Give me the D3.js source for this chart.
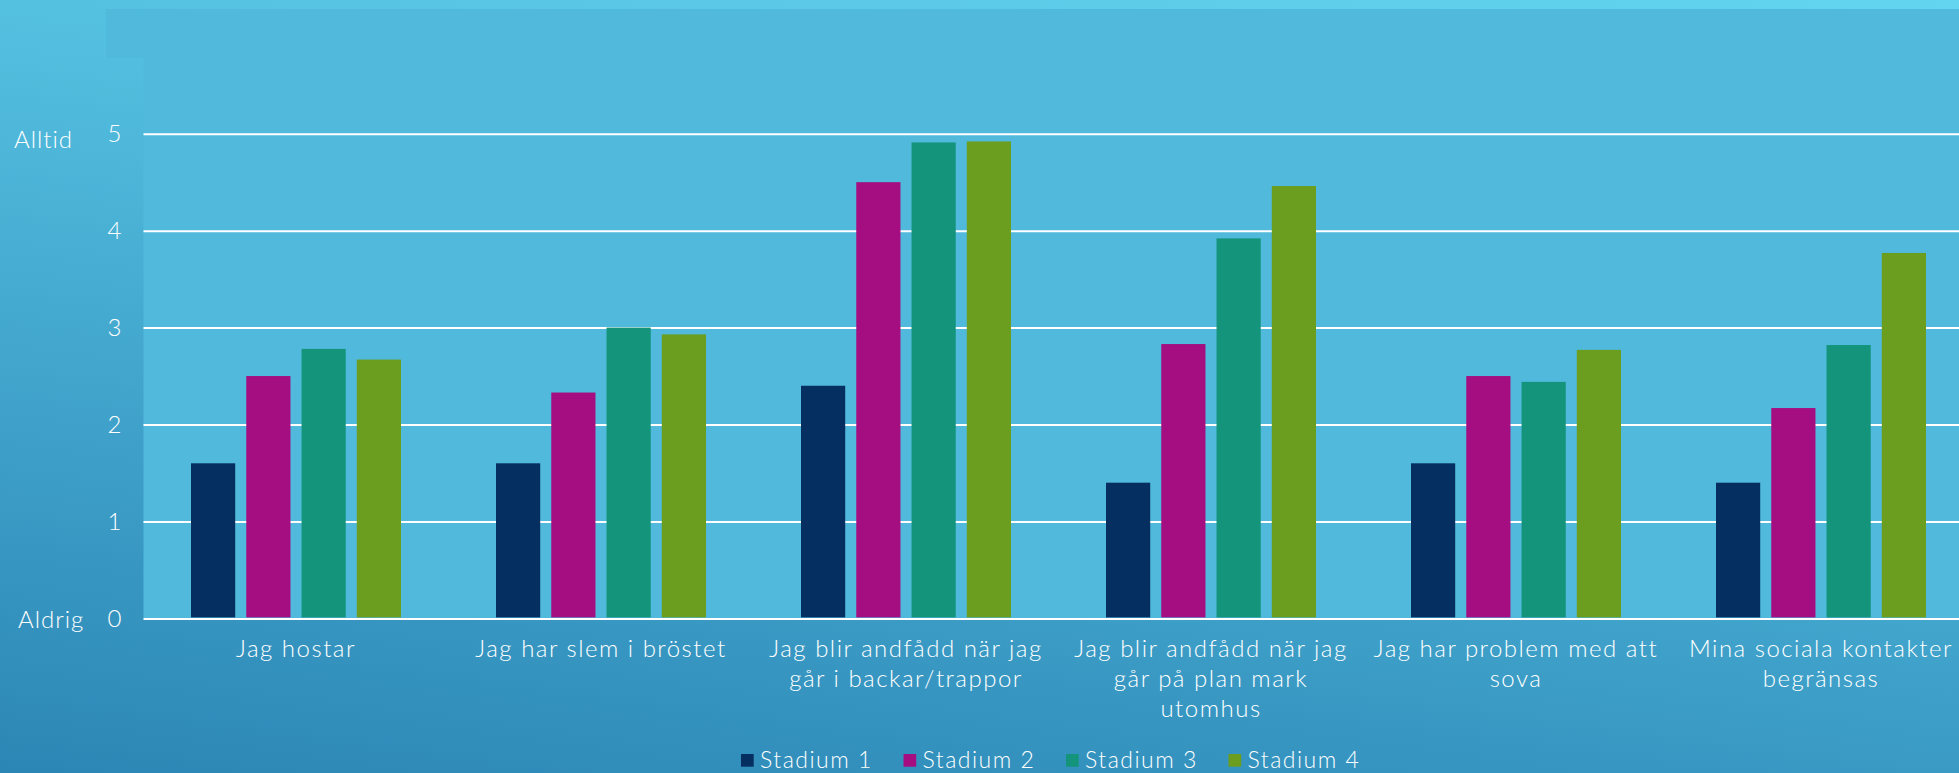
<!DOCTYPE html>
<html>
<head>
<meta charset="utf-8">
<script src="https://cdn.jsdelivr.net/npm/d3@7"></script>
<style>
  body { margin: 0; overflow: hidden; }
  svg { display: block; }
</style>
</head>
<body>
<script>
const width = 1959;
const height = 773;

// categories, one entry per group, already split into the label lines
const categories = [
  ["Jag hostar"],
  ["Jag har slem i bröstet"],
  ["Jag blir andfådd när jag", "går i backar/trappor"],
  ["Jag blir andfådd när jag", "går på plan mark", "utomhus"],
  ["Jag har problem med att", "sova"],
  ["Mina sociala kontakter", "begränsas"]
];
const seriesNames = ["Stadium 1", "Stadium 2", "Stadium 3", "Stadium 4"];
const stadium1 = [1.6, 1.6, 2.4, 1.4, 1.6, 1.4];
const stadium2 = [2.5, 2.33, 4.5, 2.83, 2.5, 2.17];
const stadium3 = [2.78, 3.0, 4.91, 3.92, 2.44, 2.82];
const stadium4 = [2.67, 2.93, 4.92, 4.46, 2.77, 3.77];
const yTicks = [0, 1, 2, 3, 4, 5];
const seriesColors = ["#052f60", "#a50e81", "#14957b", "#6b9e1f"];

const allSeries = [stadium1, stadium2, stadium3, stadium4];
const keys = categories.map(c => c.join(" "));

const plotLeft = 143.5, plotRight = 1973.5, plotTop = 9;
const yBottom = 618.4, yTop = 133.7;
const font = "Lato, 'Open Sans', sans-serif";

const svg = d3.select("body").append("svg")
  .attr("width", width)
  .attr("height", height)
  .style("font-family", font)
  .style("font-weight", 300);

// slide background: dark blue at the bottom left, light cyan at the top right
const defs = svg.append("defs");
const grad = defs.append("linearGradient")
  .attr("id", "bg")
  .attr("gradientUnits", "userSpaceOnUse")
  .attr("x1", 0).attr("y1", 773)
  .attr("x2", 137).attr("y2", -245);
grad.append("stop").attr("offset", 0).attr("stop-color", "#2c86b5");
grad.append("stop").attr("offset", 1).attr("stop-color", "#63d5f0");

svg.append("rect").attr("width", width).attr("height", height).attr("fill", "url(#bg)");

// chart panels
svg.append("rect")
  .attr("x", 106).attr("y", plotTop)
  .attr("width", width - 106).attr("height", 49)
  .attr("fill", "#51badc");
svg.append("rect")
  .attr("x", plotLeft).attr("y", plotTop)
  .attr("width", width - plotLeft).attr("height", yBottom - plotTop)
  .attr("fill", "#51badc");

const y = d3.scaleLinear().domain([0, 5]).range([yBottom, yTop]);
const x0 = d3.scaleBand().domain(keys).range([plotLeft, plotRight]).padding(0);
const groupPad = 47.5;
const x1 = d3.scaleBand().domain(seriesNames)
  .range([groupPad, x0.bandwidth() - groupPad])
  .paddingInner(0.2).paddingOuter(0);

// gridlines
svg.append("g")
  .attr("transform", `translate(${plotLeft},0)`)
  .call(d3.axisRight(y).tickValues(yTicks).tickSize(plotRight - plotLeft).tickFormat(""))
  .call(g => g.select(".domain").remove())
  .call(g => g.selectAll("line").attr("stroke", "#ffffff").attr("stroke-width", 2));

// y tick labels
svg.append("g")
  .attr("transform", `translate(${plotLeft},0)`)
  .call(d3.axisLeft(y).tickValues(yTicks).tickSize(0).tickPadding(22).tickFormat(d3.format("d")))
  .call(g => g.select(".domain").remove())
  .call(g => g.selectAll("text")
    .attr("fill", "#ffffff")
    .style("font-family", font)
    .style("font-size", "24px")
    .style("font-weight", 300));

// Alltid / Aldrig
svg.append("text").text("Alltid")
  .attr("x", 14).attr("y", 148)
  .attr("fill", "#ffffff").style("font-size", "24px").style("letter-spacing", "1px");
svg.append("text").text("Aldrig")
  .attr("x", 18).attr("y", 628)
  .attr("fill", "#ffffff").style("font-size", "24px").style("letter-spacing", "1px");

// bars
const groups = svg.append("g")
  .selectAll("g")
  .data(keys)
  .join("g")
  .attr("transform", k => `translate(${x0(k)},0)`);

groups.selectAll("rect")
  .data((k, i) => seriesNames.map((s, j) => ({ s, j, v: allSeries[j][i] })))
  .join("rect")
  .attr("x", d => x1(d.s))
  .attr("y", d => y(d.v))
  .attr("width", x1.bandwidth())
  .attr("height", d => y(0) - y(d.v) - 1)
  .attr("fill", d => seriesColors[d.j]);

// category labels
const xAxis = svg.append("g")
  .attr("transform", `translate(0,${yBottom})`)
  .call(d3.axisBottom(x0).tickSize(0).tickFormat(""))
  .call(g => g.select(".domain").remove());

xAxis.selectAll(".tick text").remove();
xAxis.selectAll(".tick").each(function(k, i) {
  const t = d3.select(this).append("text")
    .attr("fill", "#ffffff")
    .attr("text-anchor", "middle")
    .style("font-family", font)
    .style("font-size", "24px")
    .style("font-weight", 300)
    .style("letter-spacing", "1.5px");
  categories[i].forEach((line, li) => {
    t.append("tspan").attr("x", 0).attr("y", 39 + li * 30).text(line);
  });
});

// legend
const legendX = d3.scaleBand().domain(seriesNames).range([741, 741 + 4 * 162.5]);
const legend = svg.append("g")
  .selectAll("g")
  .data(seriesNames)
  .join("g")
  .attr("transform", s => `translate(${legendX(s)},0)`);
legend.append("rect")
  .attr("x", 0).attr("y", 754)
  .attr("width", 12.7).attr("height", 12.7)
  .attr("fill", (s, i) => seriesColors[i]);
legend.append("text")
  .attr("x", 19).attr("y", 768)
  .attr("fill", "#ffffff")
  .style("font-size", "23px")
  .style("letter-spacing", "1.5px")
  .text(s => s);
</script>
</body>
</html>
